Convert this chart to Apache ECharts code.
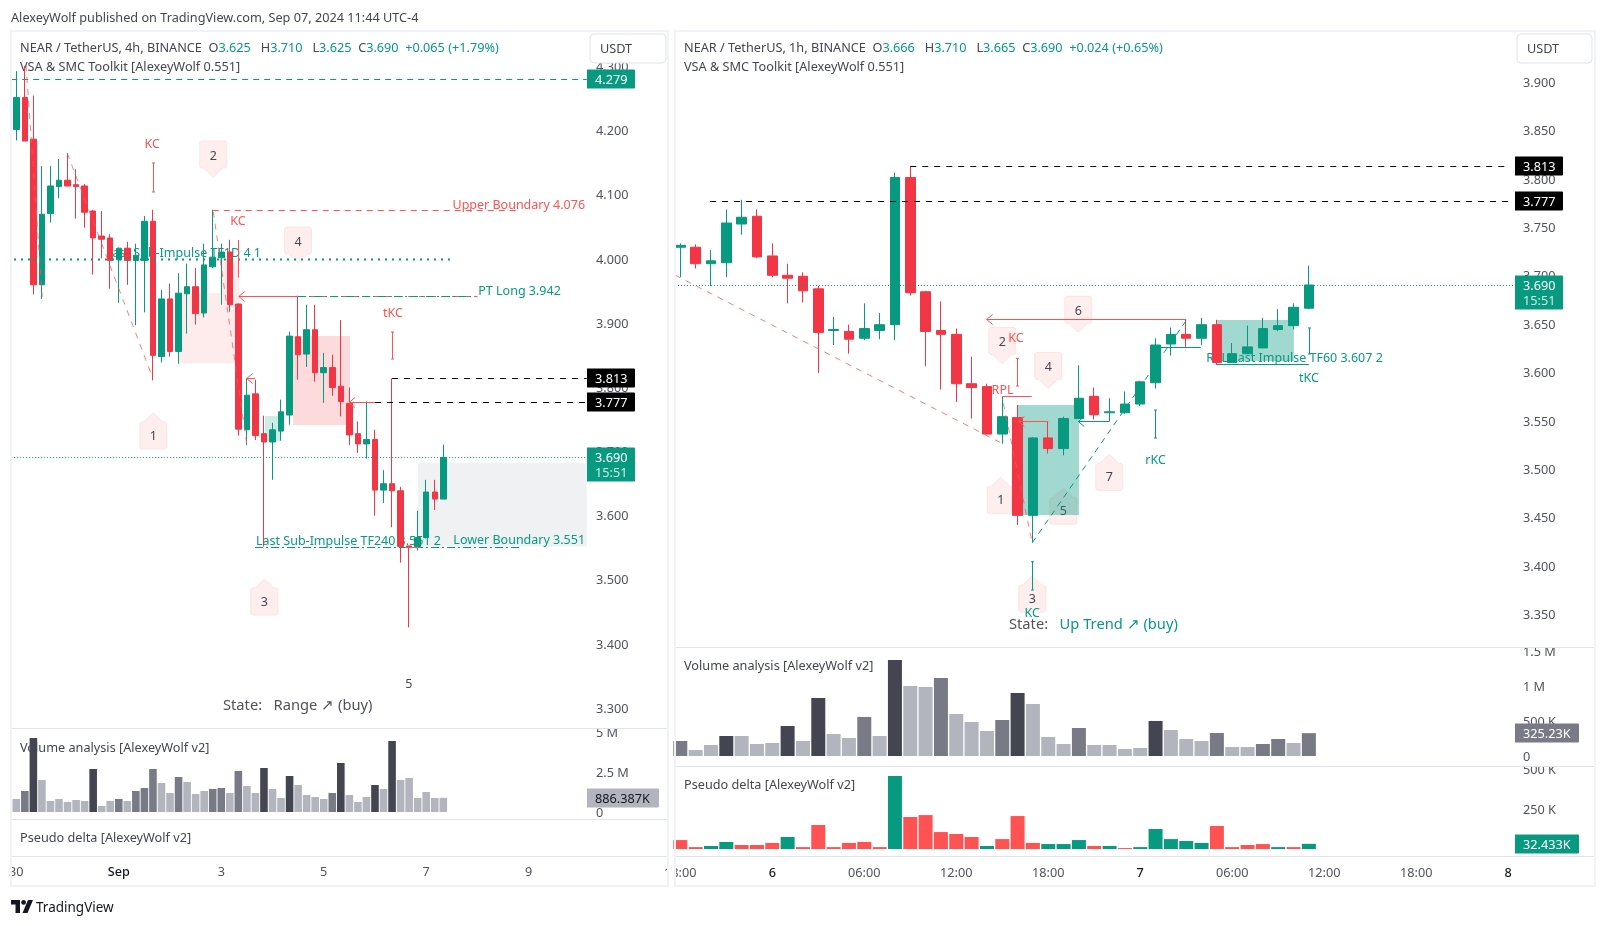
<!DOCTYPE html>
<html><head><meta charset="utf-8"><style>html,body{margin:0;padding:0;background:#fff}#c{width:1607px;height:926px}</style>
<script src="https://cdn.jsdelivr.net/npm/echarts@6/dist/echarts.min.js"></script></head><body><div id="c"></div><script>
// ---- 4h pane
const leftOpen=[4.201,4.251,4.186,3.959,4.070,4.112,4.122,4.115,4.113,4.074,4.035,4.032,3.998,4.016,3.997,3.997,4.058,3.847,3.937,3.855,3.945,3.956,3.915,3.987,4.001,4.010,3.929,3.733,3.789,3.727,3.714,3.731,3.756,3.878,3.851,3.889,3.822,3.830,3.801,3.774,3.727,3.711,3.718,3.639,3.649,3.638,3.552,3.551,3.565,3.636,3.625];
const leftClose=[4.251,4.183,3.959,4.069,4.113,4.122,4.113,4.112,4.072,4.032,4.030,3.997,4.016,3.997,4.005,4.058,3.849,3.937,3.855,3.946,3.956,3.914,3.990,4.002,4.010,3.928,3.734,3.787,3.724,3.714,3.733,3.761,3.879,3.850,3.889,3.822,3.830,3.799,3.777,3.725,3.711,3.718,3.639,3.649,3.638,3.551,3.550,3.565,3.636,3.625,3.690];
const leftLow=[4.184,4.183,3.944,3.937,4.056,4.094,4.113,4.062,4.048,3.975,4.000,3.953,3.931,3.959,3.896,3.916,3.810,3.838,3.847,3.836,3.883,3.897,3.908,3.985,3.928,3.917,3.724,3.709,3.717,3.551,3.655,3.716,3.741,3.811,3.831,3.808,3.775,3.786,3.754,3.709,3.697,3.688,3.599,3.619,3.581,3.526,3.425,3.545,3.565,3.608,3.625];
const leftHigh=[4.292,4.300,4.254,4.144,4.144,4.155,4.164,4.139,4.116,4.076,4.074,4.038,4.017,4.026,4.023,4.066,4.076,3.951,3.961,3.977,3.992,3.985,4.023,4.076,4.023,4.029,3.930,3.813,3.811,3.755,3.744,3.780,3.886,3.942,3.928,3.928,3.853,3.850,3.904,3.799,3.746,3.777,3.733,3.670,3.813,3.644,3.552,3.607,3.655,3.655,3.710];
const leftVolume=[812,1312,4624,2000,687,812,625,750,687,2687,375,687,812,687,1312,1500,2687,1812,1187,2187,1875,1125,1312,1437,1500,1187,2562,1625,1187,2750,1437,875,2250,1687,1062,937,812,1187,3062,1062,625,937,1687,1437,4437,2000,2125,875,1250,875,886.387];
const leftVolumeTier=[0,1,2,0,0,0,0,0,0,2,0,0,1,0,1,1,1,0,0,1,0,0,0,1,1,0,1,0,0,2,0,0,2,0,0,0,0,1,2,0,0,0,2,0,2,0,0,0,0,0,0];
const leftTimeTicks=[0,12,24,36,48,60];
const leftTimeLabels=['30','Sep','3','5','7','9'];
const leftPriceTicks=[3.3,3.4,3.5,3.6,3.7,3.8,3.9,4.0,4.1,4.2,4.3];
const leftVolumeTicks=[0,2500,5000];
const leftVolumeTickLabels=['0','2.5 M','5 M'];
// ---- 1h pane
const rightOpen=[3.729,3.729,3.712,3.713,3.753,3.761,3.720,3.700,3.699,3.686,3.643,3.642,3.635,3.643,3.649,3.801,3.683,3.643,3.639,3.588,3.585,3.536,3.553,3.452,3.532,3.521,3.552,3.575,3.558,3.558,3.567,3.589,3.629,3.639,3.635,3.649,3.610,3.619,3.625,3.644,3.648,3.666];
const rightClose=[3.731,3.712,3.715,3.754,3.760,3.719,3.700,3.697,3.684,3.641,3.644,3.634,3.645,3.649,3.801,3.682,3.642,3.639,3.588,3.584,3.536,3.554,3.452,3.532,3.521,3.552,3.573,3.556,3.559,3.567,3.590,3.628,3.639,3.635,3.649,3.610,3.619,3.626,3.645,3.648,3.667,3.690];
const rightLow=[3.698,3.707,3.689,3.698,3.742,3.718,3.698,3.671,3.672,3.599,3.628,3.619,3.633,3.634,3.633,3.679,3.606,3.582,3.569,3.552,3.536,3.526,3.442,3.424,3.516,3.514,3.552,3.551,3.549,3.557,3.565,3.583,3.617,3.626,3.628,3.608,3.610,3.619,3.625,3.642,3.644,3.665];
const rightHigh=[3.733,3.732,3.726,3.768,3.778,3.768,3.733,3.712,3.703,3.689,3.657,3.649,3.671,3.661,3.806,3.813,3.684,3.673,3.645,3.616,3.588,3.575,3.566,3.533,3.549,3.554,3.607,3.584,3.573,3.580,3.591,3.635,3.646,3.654,3.656,3.654,3.630,3.648,3.656,3.665,3.671,3.710];
const rightVolume=[214,85,157,285,285,171,185,427,214,826,313,256,556,285,1367,997,983,1111,598,484,356,513,897,741,271,171,399,157,157,100,114,499,370,242,214,328,128,128,171,242,185,325.23];
const rightVolumeTier=[1,0,0,2,0,0,0,2,0,2,0,0,1,0,2,0,0,1,0,0,0,1,2,0,0,0,1,0,0,0,0,2,0,0,0,1,0,0,1,1,0,1];
const rightDelta=[56,12,19,44,25,25,38,75,12,150,12,38,44,12,456,200,212,106,94,75,19,62,206,38,31,31,56,19,19,6,12,125,62,50,38,144,12,25,31,12,12,32.433];
const rightDeltaUp=[0,0,1,1,0,0,0,1,0,0,0,0,0,0,1,0,0,0,0,0,1,0,0,0,1,1,1,0,1,0,1,1,1,1,1,0,0,0,0,1,0,1];
const rightTimeTicks=[0,6,12,18,24,30,36,42,48,54];
const rightTimeLabels=['18:00','6','06:00','12:00','18:00','7','06:00','12:00','18:00','8'];
const rightPriceTicks=[3.35,3.4,3.45,3.5,3.55,3.6,3.65,3.7,3.75,3.8,3.85,3.9];
const rightVolumeTicks=[0,500,1000,1500];
const rightVolumeTickLabels=['0','500 K','1 M','1.5 M'];
const rightDeltaTicks=[250,500];
const rightDeltaTickLabels=['250 K','500 K'];
// ---- drawings, in candle index / price units
const leftBoxes=[[19.05,3.9457,26.07,3.8366,'pink'],[23.85,3.9997,26.07,3.9457,'pink'],[32.4,3.8792,39.07,3.7405,'pinkStrong'],[29.12,3.7545,31,3.7156,'tealPale'],[47.04,3.6813,66.8,3.551,'grey']];
const leftLines=[[-0.6,4.279,66.8,4.279,'greenDash'],[-0.27,3.9995,51,3.9995,'greenDots'],[23,4.076,59,4.076,'redDash'],[26.05,3.942,33,3.942,'redArrow'],[33,3.942,54,3.942,'redDash'],[33,3.942,53.5,3.942,'greenDashDot'],[26.97,3.8132,27.95,3.8132,'redArrow'],[38.96,3.777,42,3.777,'redArrow'],[42,3.777,66.8,3.777,'blackDash'],[44,3.813,66.8,3.813,'blackDash'],[-0.6,3.69,66.8,3.69,'greenFine'],[27.95,3.551,59,3.551,'greenDashDot'],[45.5,3.551,47.25,3.551,'redSolid'],[1.14,4.3015,3.04,3.9404,'redFade'],[5.97,4.1639,15.85,3.8184,'redFade'],[23.07,4.0729,26.98,3.712,'redFade'],[16,4.1488,16,4.1036,'redRange'],[44.03,3.8854,44.03,3.8433,'redRange'],[26,4.0288,26,3.97,'redSolid']];
const leftTexts=[[15.9,4.18,'KC','red','center'],[25.96,4.06,'KC','red','center'],[44.1,3.917,'tKC','red','center'],[66.6,4.0849,'Upper Boundary 4.076','red','right'],[54.1,3.9513,'PT Long 3.942','green','left'],[66.6,3.5624,'Lower Boundary 3.551','green','right'],[45.95,3.338,'5','dark','center']];
const leftUnderTexts=[[10.5,4.0106,'Last Sub-Impulse TF1D 4 1','green','left'],[28.07,3.5613,'Last Sub-Impulse TF240 3.551 2','green','left']];
const leftTags=[[23.07,4.127,'2','down'],[32.99,3.9929,'4','down'],[16.04,3.7592,'1','up'],[29.04,3.5005,'3','up']];
const rightBoxes=[[22,3.566,26,3.4523,'teal'],[34.98,3.6538,40.02,3.6114,'teal']];
const rightLines=[[-0.35,3.69,54.38,3.69,'greenFine'],[15,3.813,54.1,3.813,'blackDash'],[1.94,3.777,54.1,3.777,'blackDash'],[-0.35,3.7003,20.98,3.5264,'redFade'],[21.07,3.5677,22.92,3.4265,'redFade'],[22.96,3.4238,33.02,3.6538,'greenDash'],[19.98,3.6545,33,3.6545,'redArrow'],[21.02,3.5753,22.92,3.5753,'redSolid'],[22.05,3.5491,24,3.5491,'redArrow'],[25.96,3.5491,27.98,3.5491,'greenArrow'],[31.02,3.6255,33.94,3.6255,'greenSolid'],[34.96,3.608,41,3.608,'greenSolid'],[21.98,3.6142,21.98,3.5856,'redRange'],[30.98,3.5608,30.98,3.5319,'greenRange'],[22.96,3.4041,22.96,3.3749,'greenRange'],[41,3.6456,41,3.6187,'greenRange']];
const rightTexts=[[21.9,3.6359,'KC','red','center'],[21.02,3.5822,'RPL','red','center'],[31,3.5105,'rKC','green','center'],[22.96,3.3525,'KC','green','center'],[41,3.5949,'tKC','green','center']];
const rightUnderTexts=[[34.3,3.6152,'RPL Last Impulse TF60 3.607 2','green','left']];
const rightTags=[[25.96,3.6411,'6','down'],[21,3.609,'2','down'],[24,3.5832,'4','down'],[20.9,3.4912,'1','up'],[24.98,3.4799,'5','up'],[27.98,3.515,'7','up'],[22.96,3.3893,'3','up']];

const FONT='"Noto Sans",sans-serif';
const UP='#089981',DOWN='#F23645',RED='#FF5252',INK='#434651',AXIS='#50535E';
const TIER=['#B2B5BE','#787B86','#434651'];
const TEXTCOL={red:RED,green:UP,dark:INK};
const BOXCOL={pink:'rgba(242,54,69,0.10)',pinkStrong:'rgba(242,54,69,0.18)',tealPale:'rgba(8,153,129,0.2)',grey:'rgba(120,130,150,0.115)',teal:'rgba(8,153,129,0.38)'};
const LINES={
 greenDash:{stroke:UP,lineWidth:1,lineDash:[6,5]},greenDots:{stroke:UP,lineWidth:2,lineDash:[2,5]},
 greenFine:{stroke:UP,lineWidth:1,lineDash:[1,2]},greenDashDot:{stroke:UP,lineWidth:1,lineDash:[8,3,2,3]},
 greenSolid:{stroke:UP,lineWidth:1},greenArrow:{stroke:UP,lineWidth:1},greenRange:{stroke:UP,lineWidth:1},
 redDash:{stroke:RED,lineWidth:1,lineDash:[6,5]},redFade:{stroke:'rgba(255,82,82,0.75)',lineWidth:1,lineDash:[6,6]},
 redSolid:{stroke:RED,lineWidth:1},redArrow:{stroke:RED,lineWidth:1},redRange:{stroke:RED,lineWidth:1},
 blackDash:{stroke:'#000',lineWidth:1,lineDash:[6,6]}};
const DY=1.5;

function layer(name,items,xi,yi,z,draw,clip){
 return {type:'custom',name,coordinateSystem:'cartesian2d',xAxisIndex:xi,yAxisIndex:yi,z,clip:clip!==false,silent:true,animation:false,
  data:items.map(it=>[it[0],it[1]]),renderItem:(p,api)=>draw(items[p.dataIndex],api)};
}
function drawBox(it,api){const a=api.coord([it[0],it[1]]),b=api.coord([it[2],it[3]]);
 return {type:'rect',shape:{x:a[0],y:a[1],width:b[0]-a[0],height:b[1]-a[1]},style:{fill:BOXCOL[it[4]]}};}
function drawLine(it,api){const a=api.coord([it[0],it[1]]),b=api.coord([it[2],it[3]]),k=it[4],st=LINES[k];
 if(a[1]===b[1]){a[1]=b[1]=Math.round(a[1])+.5;} if(a[0]===b[0]){a[0]=b[0]=Math.round(a[0])+.5;}
 const ln=(x1,y1,x2,y2)=>({type:'line',shape:{x1,y1,x2,y2},style:st});
 const ch=[ln(a[0],a[1],b[0],b[1])];
 if(/Arrow$/.test(k)){ch.push(ln(a[0],a[1],a[0]+6,a[1]-5),ln(a[0],a[1],a[0]+6,a[1]+5));}
 if(/Range$/.test(k)){ch.push(ln(a[0]-1.5,a[1],a[0]+1.5,a[1]),ln(b[0]-1.5,b[1],b[0]+1.5,b[1]));}
 return {type:'group',children:ch};}
function drawText(it,api){const a=api.coord([it[0],it[1]]);
 return {type:'text',style:{text:it[2],x:a[0],y:a[1]+DY,fill:TEXTCOL[it[3]],font:'12.5px '+FONT,align:it[4],verticalAlign:'middle'}};}
function drawTag(it,api){const a=api.coord([it[0],it[1]]),s=it[3]==='up'?1:-1,x=a[0],y=a[1],w=13.5;
 return {type:'group',children:[
  {type:'polygon',shape:{points:[[x,y],[x+9.5,y+s*9],[x+w-1.5,y+s*9],[x+w,y+s*10.5],[x+w,y+s*34.5],[x+w-1.5,y+s*36],[x-w+1.5,y+s*36],[x-w,y+s*34.5],[x-w,y+s*10.5],[x-w+1.5,y+s*9],[x-9.5,y+s*9]]},style:{fill:'#FEEEEE',stroke:'#FCE4E4',lineWidth:1}},
  {type:'text',style:{text:it[2],x,y:y+s*22+DY,fill:INK,font:'12.5px '+FONT,align:'center',verticalAlign:'middle'}}]};}
function drawPriceTag(it,api){const a=api.coord([it[0],it[1]]),two=it[5];
 const x=Math.round(a[0])+1,y=Math.round(a[1]),h=two?34:19,ch=[
  {type:'rect',shape:{x,y:y-9.5,width:it[6],height:h,r:[0,1,1,0]},style:{fill:it[3]}},
  {type:'text',style:{text:it[2],x:x+8,y:y+DY,fill:it[4],font:'12.7px '+FONT,align:'left',verticalAlign:'middle'}}];
 if(two)ch.push({type:'text',style:{text:two,x:x+8,y:y+15+DY,fill:'rgba(255,255,255,0.8)',font:'12.7px '+FONT,align:'left',verticalAlign:'middle'}});
 return {type:'group',children:ch};}
const candles=(o,c,l,h,xi,yi,w)=>({type:'candlestick',name:'price',xAxisIndex:xi,yAxisIndex:yi,z:3,barWidth:w,silent:true,animation:false,
 itemStyle:{color:UP,color0:DOWN,borderColor:UP,borderColor0:DOWN,borderWidth:1},
 data:o.map((v,i)=>[i,v,c[i],l[i],h[i]])});
const bars=(name,vals,colorOf,xi,yi,w)=>({type:'bar',name,xAxisIndex:xi,yAxisIndex:yi,z:3,barWidth:w,silent:true,animation:false,
 data:vals.map((v,i)=>({value:[i,v],itemStyle:{color:colorOf(i)}}))});

const grids=[
 {left:11.5,top:30.7,width:574.5,height:697.6},{left:11.5,top:728.3,width:574.5,height:91},{left:11.5,top:819.3,width:574.5,height:36.7},
 {left:675,top:30.7,width:839,height:616.6},{left:675,top:647.3,width:839,height:119},{left:675,top:766.3,width:839,height:90.4}];
const LX=[-0.562,66.71],RX=[-0.346,54.38];
function xAxis(gi,range,ticks,labels,strong){const a={type:'value',gridIndex:gi,min:range[0],max:range[1],axisLine:{show:false},axisTick:{show:false},splitLine:{show:false},axisLabel:{show:false}};
 if(ticks){a.axisLabel={show:true,customValues:ticks,margin:10,fontFamily:FONT,fontSize:12.7,color:AXIS,
   formatter:v=>{const s=labels[ticks.indexOf(v)];return strong.includes(s)?'{b|'+s+'}':s;},
   rich:{b:{color:'#131722',fontFamily:FONT,fontSize:12.7,fontWeight:500}}};}
 return a;}
function yAxis(gi,lo,hi,ticks,fmt,margin){return {type:'value',gridIndex:gi,position:'right',min:lo,max:hi,scale:true,axisLine:{show:false},axisTick:{show:false},splitLine:{show:false},
 axisLabel:ticks?{show:true,customValues:ticks,margin,align:'left',fontFamily:FONT,fontSize:12.7,color:AXIS,formatter:v=>'{a|'+fmt(v)+'}',
   rich:{a:{padding:[3,0,0,0],fontFamily:FONT,fontSize:12.7,color:AXIS}}}:{show:false}};}
const fmt3=v=>v.toFixed(3);
const option={backgroundColor:'#fff',animation:false,grid:grids,
 xAxis:[xAxis(0,LX),xAxis(1,LX),xAxis(2,LX,leftTimeTicks,leftTimeLabels,['Sep']),xAxis(3,RX),xAxis(4,RX),xAxis(5,RX,rightTimeTicks,rightTimeLabels,['6','7','8'])],
 yAxis:[yAxis(0,3.2678,4.355,leftPriceTicks,fmt3,10),
  yAxis(1,-456,5231,leftVolumeTicks,v=>leftVolumeTickLabels[leftVolumeTicks.indexOf(v)],10),
  yAxis(2,0,1),
  yAxis(3,3.3157,3.9527,rightPriceTicks,fmt3,9),
  yAxis(4,-146.7,1548,rightVolumeTicks,v=>rightVolumeTickLabels[rightVolumeTicks.indexOf(v)],9),
  yAxis(5,-48,516.9,rightDeltaTicks,v=>rightDeltaTickLabels[rightDeltaTicks.indexOf(v)],9)],
 series:[
  layer('leftBoxes',leftBoxes,0,0,1,drawBox),
  layer('leftNotes',leftUnderTexts,0,0,2,drawText),
  layer('leftTags',leftTags,0,0,2,drawTag),
  candles(leftOpen,leftClose,leftLow,leftHigh,0,0,6),
  layer('leftLines',leftLines,0,0,4,drawLine),
  layer('leftTexts',leftTexts,0,0,5,drawText),
  layer('leftPriceTags',[[LX[1],4.279,'4.279',UP,'#fff',null,48],[LX[1],3.813,'3.813','#000','#fff',null,48],[LX[1],3.777,'3.777','#000','#fff',null,48],[LX[1],3.69,'3.690',UP,'#fff','15:51',48]],0,0,10,drawPriceTag,false),
  bars('Volume analysis',leftVolume,i=>TIER[leftVolumeTier[i]],1,1,7.6),
  layer('leftVolumeTag',[[LX[1],886.387,'886.387K','#B2B5BE','#131722',null,72]],1,1,10,drawPriceTag,false),
  layer('rightTags',rightTags,3,3,1,drawTag),
  layer('rightBoxes',rightBoxes,3,3,2,drawBox),
  layer('rightNotes',rightUnderTexts,3,3,2,drawText),
  candles(rightOpen,rightClose,rightLow,rightHigh,3,3,10),
  layer('rightLines',rightLines,3,3,4,drawLine),
  layer('rightTexts',rightTexts,3,3,5,drawText),
  layer('rightPriceTags',[[RX[1],3.813,'3.813','#000','#fff',null,48],[RX[1],3.777,'3.777','#000','#fff',null,48],[RX[1],3.69,'3.690',UP,'#fff','15:51',48]],3,3,10,drawPriceTag,false),
  bars('Volume analysis',rightVolume,i=>TIER[rightVolumeTier[i]],4,4,14),
  layer('rightVolumeTag',[[RX[1],325.23,'325.23K','#787B86','#fff',null,64]],4,4,10,drawPriceTag,false),
  bars('Pseudo delta',rightDelta,i=>rightDeltaUp[i]?UP:RED,5,5,14),
  layer('rightDeltaTag',[[RX[1],32.433,'32.433K',UP,'#fff',null,64]],5,5,10,drawPriceTag,false)
 ],
 graphic:{elements:[
  ...[[11,31,657,855],[675,31,920,855]].map(r=>({type:'rect',z:50,silent:true,shape:{x:r[0],y:r[1],width:r[2],height:r[3]},style:{fill:'none',stroke:'#F0F3FA',lineWidth:2}})),
  {type:'rect',z:49,silent:true,shape:{x:669,y:858,width:6,height:28},style:{fill:'#fff'}},
  ...[[12,668,728.5],[12,668,819.5],[12,668,856.5],[676,1595,647.5],[676,1595,766.5],[676,1595,856.5]].map(d=>({type:'line',z:6,silent:true,shape:{x1:d[0],y1:d[2],x2:d[1],y2:d[2]},style:{stroke:'#E0E3EB',lineWidth:1}})),
  ...[[587,724,80,4],[1515,643,80,4],[1515,762,80,4]].map(r=>({type:'rect',z:6,silent:true,shape:{x:r[0],y:r[1],width:r[2],height:r[3]},style:{fill:'#fff'}})),
  ...[[590,34,76,29],[1517,34,75,29]].map(r=>({type:'rect',z:6,silent:true,shape:{x:r[0],y:r[1],width:r[2],height:r[3],r:4},style:{fill:'#fff',stroke:'#E0E3EB',lineWidth:1}})),
  ...[[600,48,'USDT'],[1527,48,'USDT'],[11,16.5,'AlexeyWolf published on TradingView.com, Sep 07, 2024 11:44 UTC-4'],
      [20,66,'VSA & SMC Toolkit [AlexeyWolf 0.551]'],[684,66,'VSA & SMC Toolkit [AlexeyWolf 0.551]'],
      [20,746.5,'Volume analysis [AlexeyWolf v2]'],[20,837,'Pseudo delta [AlexeyWolf v2]'],
      [684,665,'Volume analysis [AlexeyWolf v2]'],[684,784,'Pseudo delta [AlexeyWolf v2]']]
    .map(t=>({type:'text',z:t[2]==='USDT'?7:1,silent:true,style:{text:t[2],x:t[0],y:t[1]+DY,fill:INK,font:'12.7px '+FONT,verticalAlign:'middle'}})),
  ...[[20,47,'NEAR / TetherUS, 4h, BINANCE','3.625','3.710','3.625','3.690','+0.065 (+1.79%)'],[684,47,'NEAR / TetherUS, 1h, BINANCE','3.666','3.710','3.665','3.690','+0.024 (+0.65%)']]
    .map(t=>({type:'text',z:7,silent:true,style:{x:t[0],y:t[1]+DY,verticalAlign:'middle',font:'12.7px '+FONT,
      text:`{d|${t[2]}  O}{g|${t[3]}}{d|   H}{g|${t[4]}}{d|   L}{g|${t[5]}}{d|  C}{g|${t[6]}}{g|  ${t[7]}}`,
      rich:{d:{fill:INK,font:'12.7px '+FONT},g:{fill:UP,font:'12.7px '+FONT}}}})),
  {type:'text',z:7,silent:true,style:{x:223,y:704+DY,verticalAlign:'middle',font:'14.7px '+FONT,text:'State:   Range ↗ (buy)',fill:AXIS}},
  {type:'text',z:7,silent:true,style:{x:1009,y:623+DY,verticalAlign:'middle',font:'14.7px '+FONT,text:'{d|State:}{g|   Up Trend ↗ (buy)}',rich:{d:{fill:AXIS,font:'14.7px '+FONT},g:{fill:UP,font:'14.7px '+FONT}}}},
  {type:'polygon',silent:true,shape:{points:[[11,900],[20,900],[20,913],[15.5,913],[15.5,904.5],[11,904.5]]},style:{fill:'#131722'}},
  {type:'circle',silent:true,shape:{cx:23.6,cy:902.4,r:2.4},style:{fill:'#131722'}},
  {type:'polygon',silent:true,shape:{points:[[28,900],[33,900],[27.5,913],[22.5,913]]},style:{fill:'#131722'}},
  {type:'text',silent:true,style:{x:36,y:907+DY,verticalAlign:'middle',font:'13.5px '+FONT,text:'TradingView',fill:'#131722'}}
 ]}
};
echarts.init(document.getElementById('c')).setOption(option);
</script></body></html>
